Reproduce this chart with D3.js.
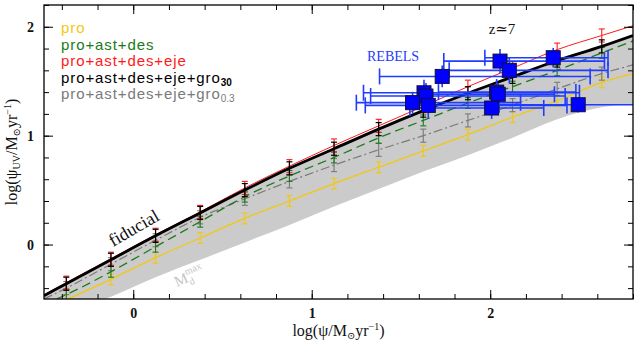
<!DOCTYPE html>
<html>
<head>
<meta charset="utf-8">
<script src="https://cdnjs.cloudflare.com/ajax/libs/d3/7.8.5/d3.min.js"></script>
<style>
  body { margin: 0; background: #fff; }
  svg { display: block; }
  .serif { font-family: "Liberation Serif", "DejaVu Serif", serif; }
  .sans { font-family: "Liberation Sans", Arial, sans-serif; }
</style>
</head>
<body>
<div id="chart"></div>
<script>
// model grid (log SFR) and curves
var modelX = [-0.5, -0.375, -0.125, 0.125, 0.375, 0.625, 0.875, 1.125, 1.375, 1.625, 1.875, 2.125, 2.375, 2.625, 2.8];
var proY    = [-0.62, -0.51, -0.32, -0.12, 0.06, 0.24, 0.40, 0.56, 0.71, 0.86, 1.01, 1.17, 1.32, 1.49, 1.57];
var desY    = [-0.55, -0.46, -0.25, -0.02, 0.21, 0.44, 0.63, 0.80, 0.98, 1.14, 1.30, 1.45, 1.60, 1.76, 1.87];
var ejeY    = [-0.46, -0.35, -0.13, 0.09, 0.30, 0.52, 0.72, 0.91, 1.09, 1.27, 1.45, 1.62, 1.79, 1.92, 2.01];
var gro30Y  = [-0.47, -0.36, -0.14, 0.08, 0.29, 0.50, 0.70, 0.88, 1.06, 1.23, 1.39, 1.54, 1.69, 1.82, 1.92];
var gro03Y  = [-0.50, -0.40, -0.18, 0.04, 0.25, 0.42, 0.58, 0.73, 0.87, 1.00, 1.14, 1.28, 1.43, 1.57, 1.65];
var mdMaxY  = [-0.72, -0.64, -0.48, -0.30, -0.14, 0.02, 0.18, 0.35, 0.51, 0.67, 0.82, 0.98, 1.15, 1.26, 1.29];

// REBELS galaxies
var rebX   = [2.055, 2.353, 2.107, 1.731, 1.629, 1.640, 1.565, 1.653, 2.036, 2.045, 2.008, 2.493];
var rebY   = [1.685, 1.716, 1.600, 1.544, 1.394, 1.364, 1.303, 1.278, 1.400, 1.380, 1.254, 1.284];
var rebXlo = [1.74, 1.97, 1.77, 1.38, 1.29, 1.33, 1.25, 1.30, 1.71, 1.66, 1.55, 2.05];
var rebXhi = [2.64, 2.66, 2.66, 2.56, 2.50, 2.42, 2.17, 2.43, 2.48, 2.36, 2.30, 2.95];
var rebYerr = [0.11, 0.09, 0.12, 0.10, 0.12, 0.12, 0.10, 0.12, 0.12, 0.10, 0.10, 0.07];

var xMajor = [0, 1, 2];
var yMajor = [0, 1, 2];

var W = 638, H = 345;
var pLeft = 44, pTop = 5, pRight = 633, pBottom = 299;

var svg = d3.select("#chart").append("svg")
    .attr("width", W)
    .attr("height", H);

var x = d3.scaleLinear().domain([-0.5, 2.8]).range([pLeft, pRight]);
var y = d3.scaleLinear().domain([-0.5, 2.2]).range([pBottom, pTop]);

svg.append("defs").append("clipPath").attr("id", "clip")
    .append("rect")
    .attr("x", pLeft).attr("y", pTop)
    .attr("width", pRight - pLeft).attr("height", pBottom - pTop);

var plot = svg.append("g").attr("clip-path", "url(#clip)");

// shaded band between fiducial and M_d^max
var band = d3.area()
    .x(function(d, i) { return x(modelX[i]); })
    .y0(function(d, i) { return y(mdMaxY[i]); })
    .y1(function(d) { return y(d); })
    .curve(d3.curveMonotoneX);
plot.append("path").datum(gro30Y)
    .attr("d", band)
    .attr("fill", "#cbcbcb");

var series = [
    {name: "pro", ys: proY, color: "#f2c80f", width: 1.3, dash: null, err: 0.05},
    {name: "gro03", ys: gro03Y, color: "#7a7a7a", width: 1.2, dash: "9,3,2,3", err: 0.06},
    {name: "des", ys: desY, color: "#1c7a1c", width: 1.3, dash: "9,5", err: 0.05},
    {name: "eje", ys: ejeY, color: "#ff1a1a", width: 1, dash: null, err: 0.06},
    {name: "gro30", ys: gro30Y, color: "#000000", width: 2.8, dash: null, err: 0.06}
];

var line = d3.line()
    .x(function(d, i) { return x(modelX[i]); })
    .y(function(d) { return y(d); })
    .curve(d3.curveMonotoneX);

series.forEach(function(s) {
    plot.append("path").datum(s.ys)
        .attr("d", line)
        .attr("fill", "none")
        .attr("stroke", s.color)
        .attr("stroke-width", s.width)
        .attr("stroke-dasharray", s.dash);

    var g = plot.append("g")
        .attr("stroke", s.color)
        .attr("stroke-width", s.name == "gro30" ? 1.2 : 1.1);
    for (var i = 1; i < modelX.length - 1; i++) {
        var px = x(modelX[i]);
        var y1 = y(s.ys[i] + s.err), y2 = y(s.ys[i] - s.err);
        g.append("line").attr("x1", px).attr("x2", px).attr("y1", y1).attr("y2", y2);
        g.append("line").attr("x1", px - 3).attr("x2", px + 3).attr("y1", y1).attr("y2", y1);
        g.append("line").attr("x1", px - 3).attr("x2", px + 3).attr("y1", y2).attr("y2", y2);
    }
});

// REBELS error bars
var eb = plot.append("g").attr("stroke", "#1f3cff").attr("stroke-width", 1.6);
rebX.forEach(function(v, i) {
    var py = y(rebY[i]);
    eb.append("line").attr("x1", x(rebXlo[i])).attr("x2", x(rebXhi[i])).attr("y1", py).attr("y2", py);
    eb.append("line").attr("x1", x(rebXlo[i])).attr("x2", x(rebXlo[i])).attr("y1", py - 8).attr("y2", py + 8);
    eb.append("line").attr("x1", x(rebXhi[i])).attr("x2", x(rebXhi[i])).attr("y1", py - 8).attr("y2", py + 8);
    eb.append("line").attr("x1", x(v)).attr("x2", x(v))
        .attr("y1", y(rebY[i] + rebYerr[i])).attr("y2", y(rebY[i] - rebYerr[i]));
});

var sq = 14;
plot.append("g").selectAll("rect")
    .data(rebX)
    .enter().append("rect")
    .attr("x", function(d) { return x(d) - sq / 2; })
    .attr("y", function(d, i) { return y(rebY[i]) - sq / 2; })
    .attr("width", sq).attr("height", sq)
    .attr("fill", "#0000ff")
    .attr("stroke", "#111133")
    .attr("stroke-width", 1);

// axes, ticks pointing inward
var xMinor = d3.range(-0.4, 2.81, 0.2);
var yMinor = d3.range(-0.4, 2.21, 0.2);

function styleAxis(g) {
    g.select(".domain").remove();
    g.selectAll("line").attr("stroke", "#000").attr("stroke-width", 1);
}

svg.append("g").attr("transform", "translate(0," + pBottom + ")")
    .call(d3.axisBottom(x).tickValues(xMinor).tickSize(-5).tickFormat(""))
    .call(styleAxis);
svg.append("g").attr("transform", "translate(0," + pBottom + ")")
    .call(d3.axisBottom(x).tickValues(xMajor).tickSize(-9).tickPadding(9).tickFormat(d3.format("d")))
    .call(styleAxis)
    .selectAll("text").attr("class", "serif").attr("font-size", 14).attr("font-weight", "bold").attr("fill", "#111");
svg.append("g").attr("transform", "translate(0," + pTop + ")")
    .call(d3.axisTop(x).tickValues(xMinor).tickSize(-5).tickFormat(""))
    .call(styleAxis);
svg.append("g").attr("transform", "translate(0," + pTop + ")")
    .call(d3.axisTop(x).tickValues(xMajor).tickSize(-9).tickFormat(""))
    .call(styleAxis);

svg.append("g").attr("transform", "translate(" + pLeft + ",0)")
    .call(d3.axisLeft(y).tickValues(yMinor).tickSize(-5).tickFormat(""))
    .call(styleAxis);
svg.append("g").attr("transform", "translate(" + pLeft + ",0)")
    .call(d3.axisLeft(y).tickValues(yMajor).tickSize(-9).tickPadding(10).tickFormat(d3.format("d")))
    .call(styleAxis)
    .selectAll("text").attr("class", "serif").attr("font-size", 14).attr("font-weight", "bold").attr("fill", "#111");
svg.append("g").attr("transform", "translate(" + pRight + ",0)")
    .call(d3.axisRight(y).tickValues(yMinor).tickSize(-5).tickFormat(""))
    .call(styleAxis);
svg.append("g").attr("transform", "translate(" + pRight + ",0)")
    .call(d3.axisRight(y).tickValues(yMajor).tickSize(-9).tickFormat(""))
    .call(styleAxis);

svg.append("rect")
    .attr("x", pLeft).attr("y", pTop)
    .attr("width", pRight - pLeft).attr("height", pBottom - pTop)
    .attr("fill", "none").attr("stroke", "#000").attr("stroke-width", 1.3);

// axis titles
var xt = svg.append("text").attr("class", "serif")
    .attr("x", (pLeft + pRight) / 2).attr("y", 336)
    .attr("text-anchor", "middle").attr("font-size", 16).attr("fill", "#111");
xt.append("tspan").text("log(ψ/M");
xt.append("tspan").attr("font-size", 10).attr("dy", 3).text("⊙");
xt.append("tspan").attr("dy", -3).text("yr");
xt.append("tspan").attr("font-size", 10).attr("dy", -6).text("−1");
xt.append("tspan").attr("dy", 6).text(")");

var yt = svg.append("text").attr("class", "serif")
    .attr("transform", "translate(17," + ((pTop + pBottom) / 2) + ") rotate(-90)")
    .attr("text-anchor", "middle").attr("font-size", 16).attr("fill", "#111");
yt.append("tspan").text("log(ψ");
yt.append("tspan").attr("font-size", 10).attr("dy", 3).text("UV");
yt.append("tspan").attr("dy", -3).text("/M");
yt.append("tspan").attr("font-size", 10).attr("dy", 3).text("⊙");
yt.append("tspan").attr("dy", -3).text("yr");
yt.append("tspan").attr("font-size", 10).attr("dy", -6).text("−1");
yt.append("tspan").attr("dy", 6).text(")");

// legend
var legend = [
    {label: "pro", sub: "", color: "#f2c80f"},
    {label: "pro+ast+des", sub: "", color: "#1c7a1c"},
    {label: "pro+ast+des+eje", sub: "", color: "#ff1a1a"},
    {label: "pro+ast+des+eje+gro", sub: "30", color: "#000000"},
    {label: "pro+ast+des+eje+gro", sub: "0.3", color: "#7a7a7a"}
];
legend.forEach(function(l, i) {
    var t = svg.append("text").attr("class", "sans")
        .attr("x", 61).attr("y", 33 + i * 16.5)
        .attr("font-size", 15).attr("letter-spacing", 0.9)
        .attr("fill", l.color);
    t.append("tspan").text(l.label);
    if (l.sub) {
        t.append("tspan").attr("font-size", 10).attr("dy", 3)
            .attr("font-weight", l.sub == "30" ? "bold" : "normal")
            .attr("letter-spacing", 0).text(l.sub);
    }
});

// annotations
svg.append("text").attr("class", "serif")
    .attr("x", 502).attr("y", 34).attr("text-anchor", "middle")
    .attr("font-size", 15).attr("fill", "#111").text("z≃7");

svg.append("text").attr("class", "serif")
    .attr("x", 367).attr("y", 61)
    .attr("font-size", 14).attr("fill", "#1f3cff").text("REBELS");

svg.append("text").attr("class", "serif")
    .attr("transform", "translate(113,247) rotate(-30)")
    .attr("font-size", 18).attr("fill", "#111").text("fiducial");

var md = svg.append("text").attr("class", "serif")
    .attr("transform", "translate(177,287) rotate(-24)")
    .attr("font-size", 15).attr("fill", "#c4c4c4");
md.append("tspan").text("M");
md.append("tspan").attr("font-size", 10).attr("dy", -7).text("max");
md.append("tspan").attr("font-size", 10).attr("dx", -17).attr("dy", 11).text("d");
</script>
</body>
</html>
